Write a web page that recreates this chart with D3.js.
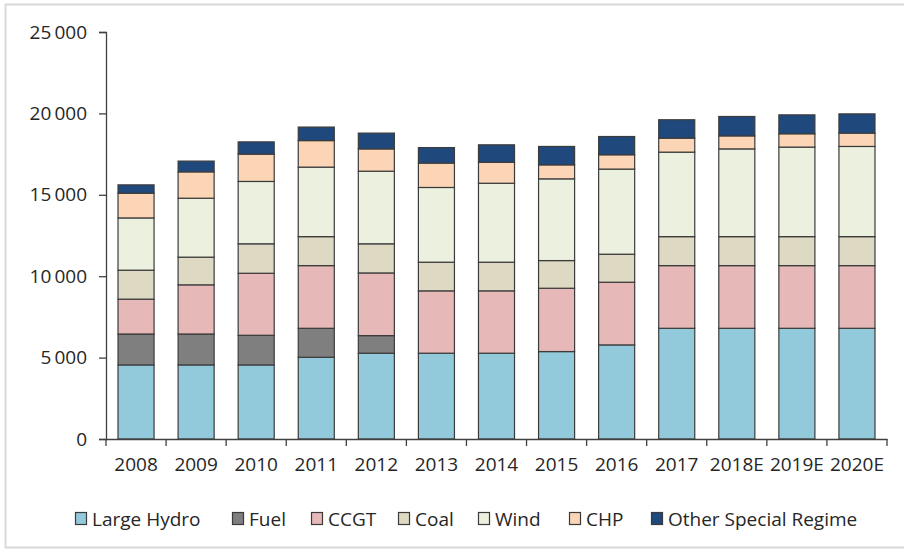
<!DOCTYPE html>
<html>
<head>
<meta charset="utf-8">
<script src="https://cdn.jsdelivr.net/npm/d3@7"></script>
<style>
  body { margin: 0; background: #fff; }
  svg text { font-family: "Open Sans", "Liberation Sans", sans-serif; fill: #262626; }
</style>
</head>
<body>
<svg id="chart" width="904" height="552"></svg>
<script>
const years = ['2008','2009','2010','2011','2012','2013','2014','2015','2016','2017','2018E','2019E','2020E'];
const seriesNames = ['Large Hydro','Fuel','CCGT','Coal','Wind','CHP','Other Special Regime'];

// MW per technology
const largeHydro = [4550,4550,4550,5020,5270,5270,5270,5370,5780,6800,6800,6800,6800];
const fuel       = [1900,1900,1820,1780,1080,0,0,0,0,0,0,0,0];
const ccgt       = [2140,3020,3810,3850,3850,3830,3830,3890,3850,3850,3850,3850,3850];
const coal       = [1780,1700,1810,1780,1790,1760,1760,1700,1720,1780,1780,1780,1780];
const wind       = [3210,3620,3830,4270,4460,4590,4850,5020,5230,5190,5390,5500,5540];
const chp        = [1520,1620,1680,1630,1370,1500,1290,860,880,860,800,820,820];
const otherSR    = [510,660,750,830,970,950,1070,1130,1120,1130,1190,1160,1180];

const yTicks = [0,5000,10000,15000,20000,25000];
const colors = ['#93cadb','#7f7f7f','#e6b8b7','#ddd9c3','#ebf1de','#fbd5b5','#1f497d'];

const allSeries = [largeHydro, fuel, ccgt, coal, wind, chp, otherSR];
const rows = years.map((y, i) => {
  const r = { year: y };
  seriesNames.forEach((s, k) => r[s] = allSeries[k][i]);
  return r;
});

const svg = d3.select('#chart');

// light frame round the chart
svg.append('rect').attr('x',5.5).attr('y',4.5).attr('width',910).attr('height',543)
  .attr('fill','none').attr('stroke','#d9d9d9').attr('stroke-width',2);

const x = d3.scaleBand().domain(years).range([106, 887]).paddingInner(0.4).paddingOuter(0.2);
const y = d3.scaleLinear().domain([0, 25000]).range([439, 32]);

const stack = d3.stack().keys(seriesNames)(rows);

svg.append('g').selectAll('g').data(stack).enter().append('g')
  .attr('fill', (d, i) => colors[i])
  .selectAll('rect').data(d => d).enter().append('rect')
  .attr('x', d => x(d.data.year))
  .attr('width', x.bandwidth())
  .attr('y', d => y(d[1]))
  .attr('height', d => y(d[0]) - y(d[1]))
  .attr('stroke', d => (d[1] - d[0]) > 0 ? '#3b3b3b' : 'none')
  .attr('stroke-width', 1.2);

// y axis
const fmt = v => d3.format(',')(v).replace(',', '\u2009');
const yAxis = svg.append('g').attr('transform','translate(106,0)')
  .call(d3.axisLeft(y).tickValues(yTicks).tickSize(7).tickPadding(12).tickFormat(fmt));
yAxis.select('.domain').attr('stroke','#404040').attr('stroke-width',1.3);
yAxis.selectAll('.tick line').attr('stroke','#404040').attr('stroke-width',1.3);
yAxis.selectAll('text').style('font-size','19px').attr('fill','#262626');

// x axis, ticks between categories
const xAxis = svg.append('g').attr('transform','translate(0,439)')
  .call(d3.axisBottom(x).tickSize(0).tickPadding(19));
xAxis.select('.domain').attr('stroke','#404040').attr('stroke-width',1.3);
xAxis.selectAll('text').style('font-size','19px').attr('fill','#262626');
const bounds = years.map(d => x(d) - x.step() * 0.2).concat([x(years[years.length-1]) + x.bandwidth() + x.step() * 0.2]);
xAxis.selectAll('line.sep').data(bounds).enter().append('line').attr('class','sep')
  .attr('x1', d => d).attr('x2', d => d).attr('y1', 0).attr('y2', 7)
  .attr('stroke','#404040').attr('stroke-width',1.3);

// legend
const legendX = [75, 232, 311, 398, 478, 569, 651];
const lg = svg.append('g').selectAll('g').data(seriesNames).enter().append('g')
  .attr('transform', (d, i) => `translate(${legendX[i]},519)`);
lg.append('rect').attr('x',0.5).attr('y',-6.5).attr('width',11).attr('height',12)
  .attr('fill', (d, i) => colors[i]).attr('stroke','#3b3b3b').attr('stroke-width',1.2);
lg.append('text').attr('x',17).attr('dy','0.35em').style('font-size','19px').text(d => d);
</script>
</body>
</html>
